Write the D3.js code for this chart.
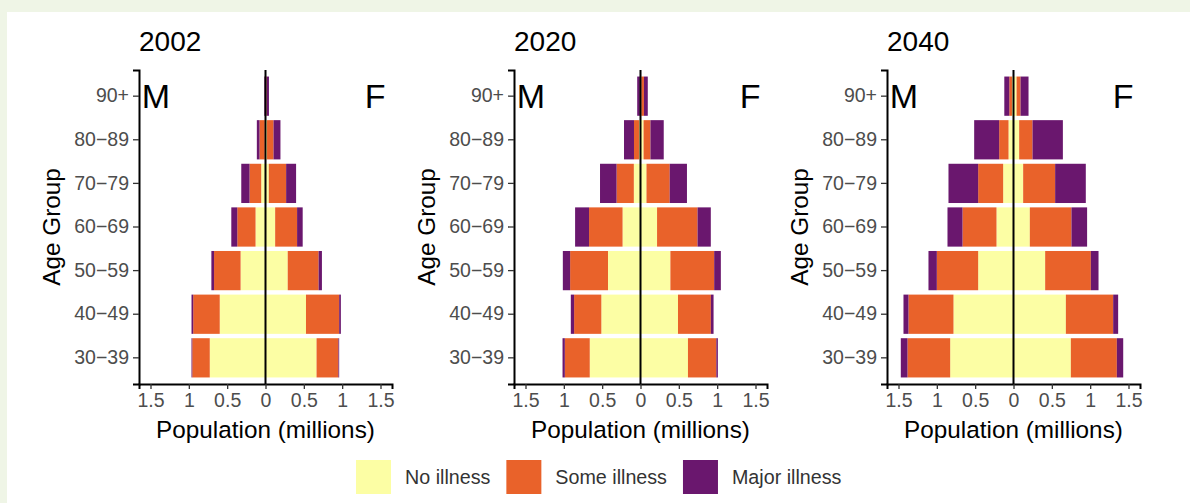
<!DOCTYPE html>
<html>
<head>
<meta charset="utf-8">
<script src="https://cdn.jsdelivr.net/npm/d3@7"></script>
<style>
  html, body { margin: 0; padding: 0; background: #eff5e6; }
  svg { display: block; font-family: "Liberation Sans", Arial, Helvetica, sans-serif; }
</style>
</head>
<body>
<svg id="chart" width="1190" height="503"></svg>
<script>
// Age groups, bottom to top
const ageGroups = ["30−39", "40−49", "50−59", "60−69", "70−79", "80−89", "90+"];
const illnessLevels = ["No illness", "Some illness", "Major illness"];
const illnessColors = ["#fcfea4", "#e9622a", "#6a176e"];
const years = ["2002", "2020", "2040"];
const xTicks = [-1.5, -1, -0.5, 0, 0.5, 1, 1.5];

// Population in millions, per age group: [no illness, some illness, major illness]
const male2002 = [
  [0.727, 0.228, 0.010],
  [0.597, 0.346, 0.022],
  [0.325, 0.346, 0.035],
  [0.130, 0.238, 0.078],
  [0.056, 0.152, 0.108],
  [0.010, 0.068, 0.035],
  [0.004, 0.005, 0.008]
];
const female2002 = [
  [0.666, 0.285, 0.010],
  [0.528, 0.433, 0.022],
  [0.290, 0.403, 0.043],
  [0.126, 0.286, 0.073],
  [0.043, 0.226, 0.130],
  [0.020, 0.085, 0.090],
  [0.005, 0.010, 0.030]
];
const male2020 = [
  [0.662, 0.325, 0.030],
  [0.511, 0.355, 0.043],
  [0.424, 0.494, 0.095],
  [0.234, 0.437, 0.182],
  [0.087, 0.225, 0.216],
  [0.020, 0.065, 0.130],
  [0.003, 0.005, 0.035]
];
const female2020 = [
  [0.619, 0.370, 0.020],
  [0.489, 0.429, 0.035],
  [0.390, 0.571, 0.087],
  [0.216, 0.528, 0.173],
  [0.078, 0.303, 0.225],
  [0.040, 0.090, 0.173],
  [0.010, 0.035, 0.050]
];
const male2040 = [
  [0.826, 0.557, 0.087],
  [0.783, 0.587, 0.065],
  [0.461, 0.539, 0.109],
  [0.222, 0.443, 0.196],
  [0.135, 0.326, 0.387],
  [0.065, 0.122, 0.326],
  [0.020, 0.035, 0.065]
];
const female2040 = [
  [0.748, 0.600, 0.083],
  [0.683, 0.617, 0.065],
  [0.413, 0.596, 0.100],
  [0.213, 0.543, 0.204],
  [0.126, 0.417, 0.400],
  [0.074, 0.174, 0.396],
  [0.040, 0.052, 0.104]
];
const maleByYear = [male2002, male2020, male2040];
const femaleByYear = [female2002, female2020, female2040];
const sexLabelX = 1.43;

const svg = d3.select("#chart");

// page card
svg.append("rect").attr("x", 7).attr("y", 12).attr("width", 1183).attr("height", 491).attr("fill", "#ffffff");

const panelLeft = [139, 514, 887];
const panelW = 253;
const plotTop = 70, plotBottom = 384;

const color = d3.scaleOrdinal().domain(illnessLevels).range(illnessColors);

years.forEach((year, pi) => {
  const x0 = panelLeft[pi];
  const g = svg.append("g");

  const x = d3.scaleLinear().domain([-1.65, 1.65]).range([x0, x0 + panelW]);
  const y = d3.scaleBand().domain(ageGroups).range([plotBottom, plotTop])
    .paddingInner(0.1).paddingOuter(0.15);

  // stacked segments, growing outward from zero on each side
  const segs = [];
  [[maleByYear[pi], -1], [femaleByYear[pi], 1]].forEach(([rows, sign]) => {
    rows.forEach((vals, ai) => {
      let acc = 0;
      vals.forEach((v, li) => {
        segs.push({ age: ageGroups[ai], level: illnessLevels[li], a: sign * acc, b: sign * (acc + v) });
        acc += v;
      });
    });
  });

  g.selectAll("rect.seg").data(segs).join("rect")
    .attr("class", "seg")
    .attr("x", d => x(Math.min(d.a, d.b)))
    .attr("width", d => Math.abs(x(d.b) - x(d.a)))
    .attr("y", d => y(d.age))
    .attr("height", y.bandwidth())
    .attr("fill", d => color(d.level));

  // zero line
  g.append("line")
    .attr("x1", x(0)).attr("x2", x(0)).attr("y1", plotTop).attr("y2", plotBottom)
    .attr("stroke", "#000").attr("stroke-width", 2);

  // x axis
  const xAxis = g.append("g").attr("transform", `translate(0,${plotBottom})`)
    .call(d3.axisBottom(x).tickValues(xTicks).tickFormat(d => d3.format("")(Math.abs(d))).tickSize(5).tickPadding(4));
  xAxis.select(".domain").attr("stroke", "#000").attr("stroke-width", 2);
  xAxis.selectAll(".tick line").attr("stroke", "#333").attr("stroke-width", 1.3);
  xAxis.selectAll(".tick text").attr("fill", "#4d4d4d").attr("font-size", 19.5)
    .attr("font-family", "Liberation Sans, Arial, sans-serif");

  // y axis
  const yAxis = g.append("g").attr("transform", `translate(${x0},0)`)
    .call(d3.axisLeft(y).tickSize(6).tickPadding(4));
  yAxis.select(".domain").attr("stroke", "#000").attr("stroke-width", 2);
  yAxis.selectAll(".tick line").attr("stroke", "#333").attr("stroke-width", 1.3);
  yAxis.selectAll(".tick text").attr("fill", "#4d4d4d").attr("font-size", 19.5)
    .attr("font-family", "Liberation Sans, Arial, sans-serif");

  // titles
  g.append("text").attr("x", x0).attr("y", 51).attr("font-size", 28).attr("fill", "#000").text(year);
  g.append("text").attr("x", x(0)).attr("y", 438).attr("text-anchor", "middle")
    .attr("font-size", 24.3).attr("fill", "#000").text("Population (millions)");
  g.append("text").attr("transform", `translate(${x0 - 79},${(plotTop + plotBottom) / 2}) rotate(-90)`)
    .attr("text-anchor", "middle").attr("font-size", 24.3).attr("fill", "#000").text("Age Group");

  // sex labels
  const yTopCenter = y("90+") + y.bandwidth() / 2;
  [["M", -sexLabelX], ["F", sexLabelX]].forEach(([lab, v]) => {
    g.append("text").attr("x", x(v)).attr("y", yTopCenter).attr("dy", "0.36em")
      .attr("text-anchor", "middle").attr("font-size", 34).attr("fill", "#000").text(lab);
  });
});

// legend
const legend = svg.append("g");
let lx = 356;
illnessLevels.forEach((lev, i) => {
  legend.append("rect").attr("x", lx).attr("y", 460).attr("width", 35).attr("height", 34)
    .attr("fill", illnessColors[i]);
  const t = legend.append("text").attr("x", lx + 49).attr("y", 477).attr("dy", "0.36em")
    .attr("font-size", 19.7).attr("fill", "#333").text(lev);
  lx += 49 + t.node().getComputedTextLength() + 16;
});
</script>
</body>
</html>
